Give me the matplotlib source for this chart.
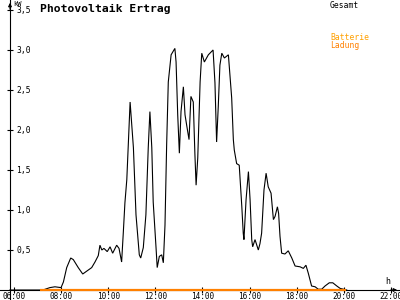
import matplotlib
matplotlib.use("Agg")
import matplotlib.pyplot as plt

# --- data ---------------------------------------------------------------
gesamt_t = [5.83, 7.23, 7.53, 7.74, 8.00, 8.10, 8.24, 8.41, 8.52, 8.73, 8.92, 9.11,
            9.30, 9.44, 9.58, 9.65, 9.73, 9.82, 9.96, 10.08, 10.19, 10.36, 10.46,
            10.57, 10.64, 10.71, 10.79, 10.93, 11.07, 11.18, 11.32, 11.38, 11.49,
            11.60, 11.70, 11.77, 11.85, 11.91, 12.03, 12.08, 12.17, 12.27, 12.34,
            12.41, 12.48, 12.55, 12.67, 12.83, 12.88, 12.95, 13.02, 13.09, 13.19,
            13.26, 13.33, 13.43, 13.51, 13.61, 13.68, 13.73, 13.80, 13.90, 13.97,
            14.08, 14.25, 14.45, 14.53, 14.60, 14.67, 14.74, 14.82, 14.93, 15.10,
            15.24, 15.31, 15.35, 15.45, 15.56, 15.67, 15.73, 15.76, 15.85, 15.95,
            16.02, 16.09, 16.13, 16.23, 16.37, 16.44, 16.51, 16.61, 16.70, 16.79,
            16.91, 17.01, 17.08, 17.18, 17.23, 17.29, 17.36, 17.50, 17.64, 17.79,
            17.93, 18.14, 18.28, 18.39, 18.49, 18.63, 18.78, 18.91, 19.06, 19.20,
            19.38, 19.53, 19.70, 19.84, 19.98, 20.12]
gesamt_kw = [0.0, 0.0, 0.03, 0.04, 0.03, 0.10, 0.28, 0.40, 0.38, 0.28, 0.20, 0.24,
             0.28, 0.35, 0.43, 0.56, 0.50, 0.52, 0.48, 0.54, 0.46, 0.56, 0.52,
             0.35, 0.71, 1.09, 1.38, 2.35, 1.78, 0.94, 0.44, 0.40, 0.53,
             0.94, 1.78, 2.23, 1.78, 1.10, 0.53, 0.28, 0.42, 0.44, 0.34,
             0.81, 1.81, 2.60, 2.94, 3.02, 2.85, 2.19, 1.71, 2.23, 2.54,
             2.19, 2.06, 1.88, 2.42, 2.35, 1.69, 1.31, 1.65, 2.60, 2.96,
             2.85, 2.94, 3.00, 2.59, 1.85, 2.29, 2.81, 2.96, 2.90, 2.94,
             2.40, 1.88, 1.75, 1.58, 1.56, 1.04, 0.71, 0.63, 1.13, 1.48,
             1.13, 0.63, 0.54, 0.63, 0.50, 0.58, 0.71, 1.25, 1.46, 1.29,
             1.21, 0.88, 0.92, 1.04, 0.96, 0.67, 0.46, 0.45, 0.49, 0.40,
             0.30, 0.29, 0.27, 0.31, 0.21, 0.05, 0.04, 0.01, 0.01, 0.05,
             0.09, 0.09, 0.05, 0.02, 0.01, 0.0]

ladung_t = [7.10, 20.10]
ladung_kw = [0.0, 0.0]

x_ticks = [6, 8, 10, 12, 14, 16, 18, 20, 22]
x_labels = ["06:00", "08:00", "10:00", "12:00", "14:00", "16:00", "18:00", "20:00", "22:00"]
y_ticks = [0.5, 1.0, 1.5, 2.0, 2.5, 3.0, 3.5]
y_labels = ["0,5", "1,0", "1,5", "2,0", "2,5", "3,0", "3,5"]

# --- figure -------------------------------------------------------------
W, H = 400, 300
fig = plt.figure(figsize=(4, 3), dpi=100)
ax = fig.add_axes([0, 0, 1, 1])
ax.set_xlim(5.41, 22.381)
ax.set_ylim(-0.125, 3.625)
ax.set_facecolor("white")

mono = "DejaVu Sans Mono"

ax.plot(gesamt_t, gesamt_kw, color="black", lw=0.8, solid_joinstyle="miter", zorder=3)
ax.plot(ladung_t, ladung_kw, color="#ff8000", lw=1.6, zorder=4, solid_capstyle="butt")

for s in ("top", "right"):
    ax.spines[s].set_visible(False)
ax.spines["left"].set_position(("data", 5.8345))
ax.spines["bottom"].set_position(("data", 0.0))
ax.spines["left"].set_linewidth(0.8)
ax.spines["bottom"].set_linewidth(0.8)

ax.set_xticks(x_ticks)
ax.set_xticklabels(x_labels, fontfamily=mono, fontsize=5.6)
ax.set_yticks(y_ticks)
ax.set_yticklabels(y_labels, fontfamily=mono, fontsize=5.8)
ax.tick_params(axis="x", direction="inout", length=4, width=0.8, pad=-0.8)
ax.tick_params(axis="y", direction="inout", length=4, width=0.8, pad=-6.5)
for lbl in ax.get_yticklabels():
    lbl.set_horizontalalignment("left")

# axis arrows
ax.annotate("", xy=(10 / W, 1.0), xytext=(10 / W, 0.96), xycoords="figure fraction",
            arrowprops=dict(arrowstyle="-|>", lw=0.8, color="black", mutation_scale=5))
ax.annotate("", xy=(1.0, 1 - 290 / H), xytext=(0.97, 1 - 290 / H), xycoords="figure fraction",
            arrowprops=dict(arrowstyle="-|>", lw=0.8, color="black", mutation_scale=5))

fig.text(40 / W, 1 - 8.5 / H, "Photovoltaik Ertrag", fontfamily=mono, fontweight="bold",
         fontsize=8.2, va="center", ha="left")
fig.text(13 / W, 1 - 4 / H, "kW", fontfamily=mono, fontsize=5, va="center", ha="left")
fig.text(385 / W, 1 - 282 / H, "h", fontfamily=mono, fontsize=6, va="center", ha="left")
fig.text(330 / W, 1 - 5 / H, "Gesamt", fontfamily=mono, fontsize=5.8, va="center", ha="left",
         color="black")
fig.text(330 / W, 1 - 37.5 / H, "Batterie", fontfamily=mono, fontsize=5.8, va="center",
         ha="left", color="#ffa000")
fig.text(330 / W, 1 - 45.5 / H, "Ladung", fontfamily=mono, fontsize=5.8, va="center",
         ha="left", color="#ff8000")

fig.savefig("out.png", dpi=100, facecolor="white")
